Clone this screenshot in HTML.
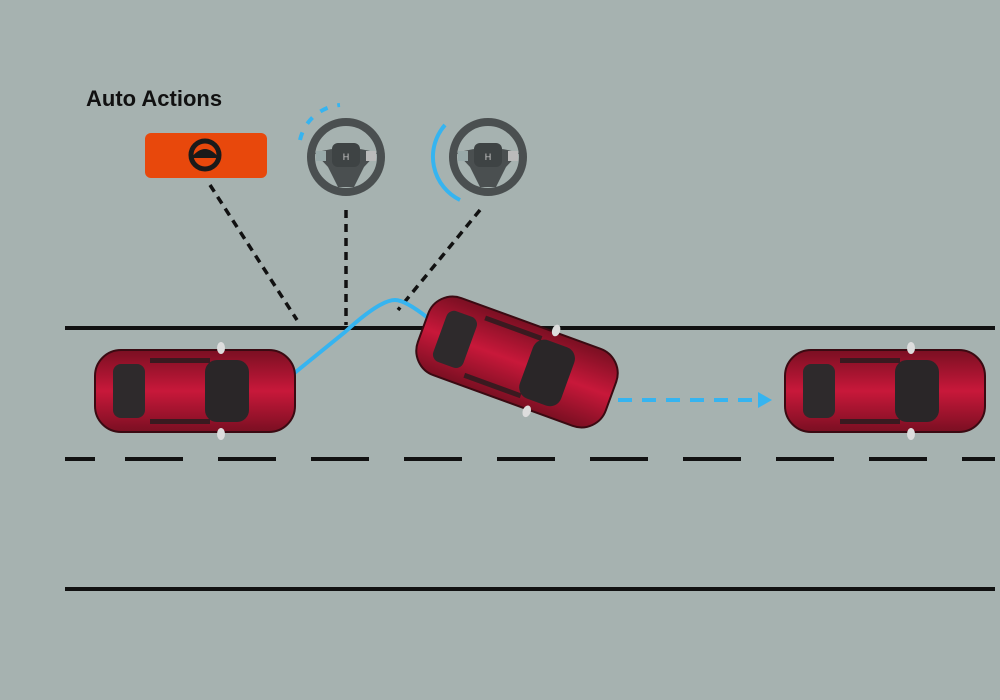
<!DOCTYPE html>
<html><head><meta charset="utf-8"><style>
html,body{margin:0;padding:0;background:#a6b2b0;}
svg{display:block}
</style></head><body>
<svg width="1000" height="700" viewBox="0 0 1000 700" xmlns="http://www.w3.org/2000/svg">
<defs>
<linearGradient id="bd" x1="0" y1="0" x2="0" y2="1">
<stop offset="0" stop-color="#7a0f22"/><stop offset="0.5" stop-color="#c8183a"/><stop offset="1" stop-color="#7a0f22"/>
</linearGradient>
<g id="car">
<rect x="0" y="0" width="200" height="82" rx="26" fill="url(#bd)" stroke="#3a0a12" stroke-width="2"/>
<rect x="18" y="14" width="32" height="54" rx="8" fill="#2e2a2c"/>
<rect x="110" y="10" width="44" height="62" rx="12" fill="#2a2628"/>
<rect x="55" y="8" width="60" height="5" fill="#3a1a20"/>
<rect x="55" y="69" width="60" height="5" fill="#3a1a20"/>
<ellipse cx="126" cy="-2" rx="4" ry="6" fill="#ddd"/>
<ellipse cx="126" cy="84" rx="4" ry="6" fill="#ddd"/>
</g>
<g id="wheel">
<circle r="35" fill="none" stroke="#4a4f50" stroke-width="8"/>
<path d="M-31,-4 Q0,-14 31,-4 L18,10 L8,30 L-8,30 L-18,10 Z" fill="#4a4f50"/>
<rect x="-14" y="-14" width="28" height="24" rx="6" fill="#3e4344"/>
<text x="0" y="3" font-family="Liberation Sans" font-size="9" fill="#ccc" text-anchor="middle">H</text>
<rect x="-30" y="-6" width="10" height="10" fill="#9aa"/>
<rect x="20" y="-6" width="10" height="10" fill="#bbb"/>
</g>
</defs>
<text x="86" y="106" font-family="Liberation Sans, sans-serif" font-size="22" font-weight="bold" fill="#111">Auto Actions</text>
<rect x="145" y="133" width="122" height="45" rx="6" fill="#e8480c"/>
<circle cx="205" cy="155" r="14" fill="none" stroke="#1a1a1a" stroke-width="5"/>
<path d="M191,158 Q205,140 219,158 Z" fill="#1a1a1a"/>
<use href="#wheel" x="346" y="157"/>
<use href="#wheel" x="488" y="157"/>
<path d="M300,140 A45,45 0 0 1 340,105" fill="none" stroke="#36b4f0" stroke-width="4" stroke-dasharray="8,10"/>
<path d="M460,200 A48,48 0 0 1 445,125" fill="none" stroke="#36b4f0" stroke-width="4"/>
<g stroke="#111" stroke-width="3.5" stroke-dasharray="8,6" fill="none">
<line x1="210" y1="185" x2="297" y2="320"/>
<line x1="346" y1="210" x2="346" y2="325"/>
<line x1="480" y1="210" x2="398" y2="310"/>
</g>
<line x1="65" y1="328" x2="995" y2="328" stroke="#111" stroke-width="4"/>
<line x1="65" y1="459" x2="995" y2="459" stroke="#111" stroke-width="4" stroke-dasharray="30,30,58,35,58,35,58,35,58,35,58,35,58,35,58,35,58,35,58,35,58,35,58,35"/>
<line x1="65" y1="589" x2="995" y2="589" stroke="#111" stroke-width="4"/>
<path d="M292,375 L345,332 Q380,300 395,300 Q405,300 428,318" fill="none" stroke="#36b4f0" stroke-width="4"/>
<line x1="618" y1="400" x2="760" y2="400" stroke="#36b4f0" stroke-width="4" stroke-dasharray="14,10"/>
<path d="M758,392 L772,400 L758,408 Z" fill="#36b4f0"/>
<use href="#car" x="95" y="350"/>
<g transform="translate(517,362) rotate(20) translate(-100,-41)"><use href="#car"/></g>
<use href="#car" x="785" y="350"/>
</svg>
</body></html>
